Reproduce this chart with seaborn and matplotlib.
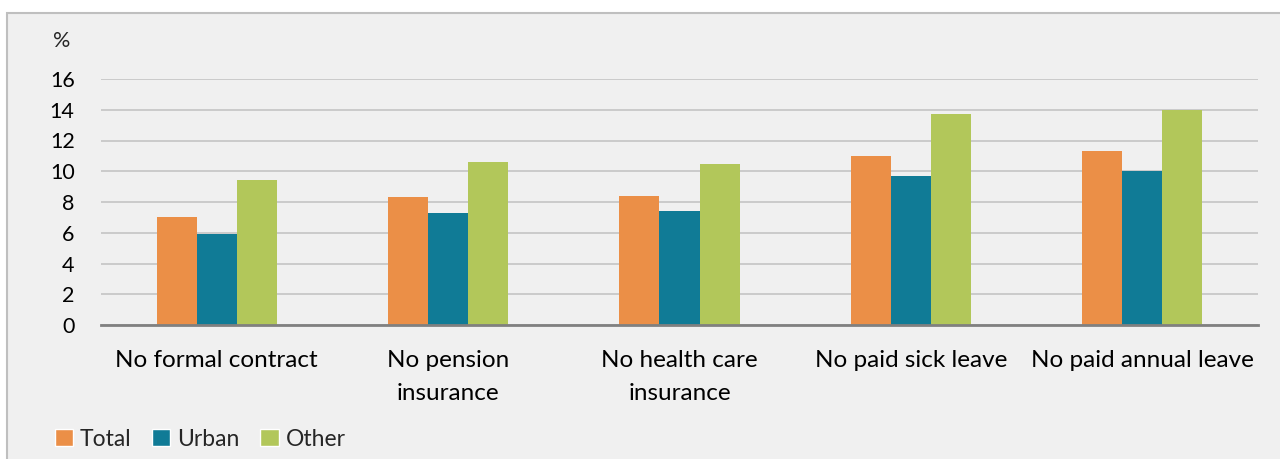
import pandas as pd
import numpy as np
import matplotlib.pyplot as plt
import seaborn as sns
from matplotlib.patches import Rectangle

categories = ['No formal contract', 'No pension\ninsurance', 'No health care\ninsurance',
              'No paid sick leave', 'No paid annual leave']
total = [7.0, 8.3, 8.4, 11.0, 11.3]
urban = [5.9, 7.3, 7.4, 9.7, 10.0]
other = [9.4, 10.6, 10.5, 13.7, 14.0]
series = ['Total', 'Urban', 'Other']
colors = ['#EB8F47', '#107B96', '#B2C75A']

df = pd.DataFrame({'category': categories * 3,
                   'value': total + urban + other,
                   'series': [s for s in series for _ in categories]})

sns.set_style('white')
plt.rcParams['font.family'] = ['Lato', 'DejaVu Sans']

fig = plt.figure(figsize=(12.8, 4.59), dpi=100)
fig.set_facecolor('white')
# grey chart area box
fig.patches.append(Rectangle((7 / 1280, -0.05), 1.1, (459 - 13) / 459 + 0.05,
                             transform=fig.transFigure, facecolor='#F0F0F0',
                             edgecolor='#BFBFBF', linewidth=1.5, zorder=-5))

ax = fig.add_axes([101 / 1280, (459 - 325) / 459, (1258 - 101) / 1280, (325 - 79) / 459])
ax.set_zorder(2)
ax.set_facecolor('#F0F0F0')
sns.barplot(data=df, x='category', y='value', hue='series', palette=colors,
            width=0.52, gap=0, saturation=1, linewidth=0, ax=ax, legend=False, zorder=3)

ax.set_ylim(0, 16)
ax.set_yticks(range(0, 17, 2))
ax.grid(axis='y', color='#C8C8C8', linewidth=1.3, zorder=0)
ax.set_axisbelow(True)
for s in ['top', 'right', 'left']:
    ax.spines[s].set_visible(False)
ax.spines['bottom'].set_color('#808080')
ax.spines['bottom'].set_linewidth(2)
ax.spines['bottom'].set_zorder(4)
ax.tick_params(axis='both', length=0, colors='#000000')
ax.tick_params(axis='y', pad=19, labelsize=15.5)
ax.tick_params(axis='x', pad=18, labelsize=17.5)
for lbl in ax.get_xticklabels():
    lbl.set_linespacing(1.72)
ax.set_xlabel('')
ax.set_ylabel('')
fig.text(62 / 1280, 1 - 41 / 459, '%', fontsize=15.5, ha='center', va='center', zorder=3)

handles = [Rectangle((0, 0), 1, 1, facecolor=c) for c in colors]
leg = fig.legend(handles, series, loc='center left', bbox_to_anchor=(34 / 1280, 1 - 439 / 459),
                 ncol=3, frameon=False, fontsize=16.5, handlelength=0.8, handleheight=0.8,
                 handletextpad=0.3, columnspacing=0.9)
leg.set_zorder(3)

fig.savefig('out.png', dpi=100, facecolor=fig.get_facecolor())
